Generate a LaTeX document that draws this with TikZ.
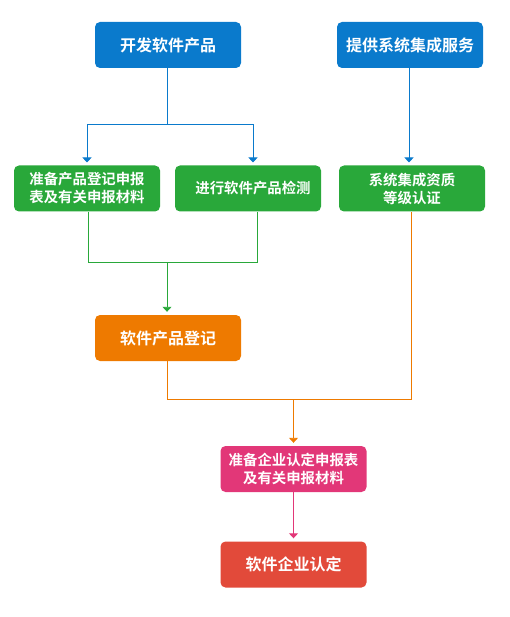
\documentclass[tikz,border=0pt]{standalone}
\usepackage{fontspec}
\setmainfont{Noto Sans CJK SC}[BoldFont={Noto Sans CJK SC Bold}]
\usetikzlibrary{arrows.meta}
\definecolor{cblue}{RGB}{10,122,204}
\definecolor{cgreen}{RGB}{41,168,58}
\definecolor{corange}{RGB}{238,122,0}
\definecolor{cpink}{RGB}{226,55,120}
\definecolor{cred}{RGB}{226,74,58}
\tikzset{
  box/.style={rounded corners=5pt, minimum width=146pt, minimum height=46pt, inner sep=2pt,
    text=white, font=\bfseries\fontsize{16}{18}\selectfont, align=center},
  small/.style={font=\bfseries\fontsize{14.4}{18}\selectfont},
  conn/.style={line width=0.9pt},
  arr/.style={conn, -{Triangle[width=9pt,length=5pt]}, shorten >=3pt},
}
\begin{document}
\begin{tikzpicture}[x=1pt,y=-1pt]
\useasboundingbox (0,0) rectangle (510,617);
\node[box, fill=cblue] (b1) at (168,45) {开发软件产品};
\node[box, fill=cblue] (b2) at (410,45) {提供系统集成服务};
\node[box, small, fill=cgreen] (b3) at (87,188.5) {准备产品登记申报\\表及有关申报材料};
\node[box, small, fill=cgreen] (b4) at (248,188.5) {\hspace*{10pt}进行软件产品检测};
\node[box, small, fill=cgreen] (b5) at (412,188.5) {系统集成资质\\等级认证};
\node[box, fill=corange] (b6) at (168,338) {软件产品登记};
\node[box, small, fill=cpink] (b7) at (293.5,469) {准备企业认定申报表\\及有关申报材料};
\node[box, fill=cred] (b8) at (293.5,564.5) {软件企业认定};
% blue
\coordinate (j1) at (167,124);
\coordinate (j1l) at (87,124);
\coordinate (j1r) at (253,124);
\coordinate (t3) at (87,165.5);
\coordinate (t4) at (253,165.5);
\draw[conn, cblue] (j1 |- b1.south) -- (j1);
\draw[arr, cblue] (j1) -- (j1l) -- (t3);
\draw[arr, cblue] (j1) -- (j1r) -- (t4);
\draw[arr, cblue] (b2.south -| 409,0) -- (409,165.5);
% green
\coordinate (g1) at (88,262);
\coordinate (g2) at (257,262);
\coordinate (g3) at (167,262);
\draw[conn, cgreen] (b3.south -| g1) -- (g1) -- (g2) -- (b4.south -| g2);
\draw[arr, cgreen] (g3) -- (g3 |- b6.north);
% orange
\coordinate (o1) at (167,399);
\coordinate (o2) at (411,399);
\coordinate (o3) at (293.5,399);
\draw[conn, corange] (b6.south -| o1) -- (o1) -- (o2) -- (b5.south -| o2);
\draw[arr, corange] (o3) -- (b7.north);
% pink
\draw[arr, cpink] (b7.south) -- (b8.north);
\end{tikzpicture}
\end{document}
